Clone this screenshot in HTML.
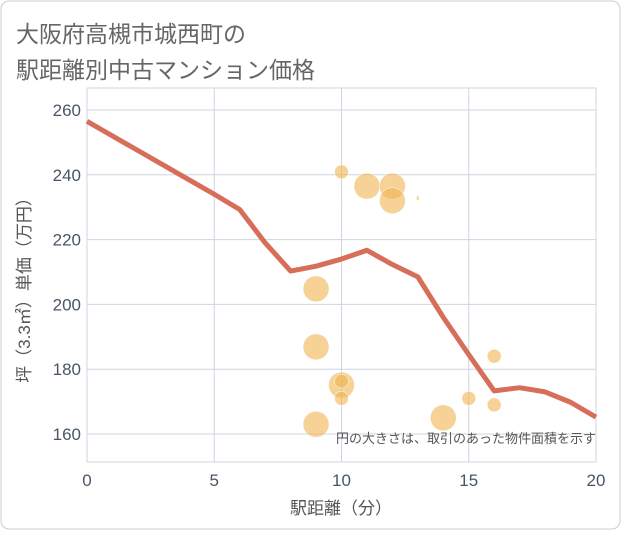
<!DOCTYPE html>
<html><head><meta charset="utf-8"><style>
body{margin:0;background:#fff;}
svg text{font-family:"Liberation Sans","Noto Sans CJK JP",sans-serif;}
</style></head><body>
<svg id="c" width="621" height="530">
<rect x="1" y="1" width="619" height="528" rx="8" fill="#fff" stroke="#ccc"/>
<text x="16" y="42" font-size="23" fill="#666">大阪府高槻市城西町の</text>
<text x="16" y="78" font-size="23" fill="#666">駅距離別中古マンション価格</text>
<g id="grid"></g><g id="bub"></g><g id="ln"></g><g id="ax"></g>
<text x="596" y="443" font-size="13" fill="#555" text-anchor="end">円の大きさは、取引のあった物件面積を示す</text>
<text x="341" y="514" font-size="17" fill="#555" text-anchor="middle">駅距離（分）</text>
<text transform="translate(30,286) rotate(-90)" font-size="17" fill="#555" text-anchor="middle">坪（3.3㎡）単価（万円）</text>
</svg>
<script>
const xTicks=[0,5,10,15,20];
const yTicks=[160,180,200,220,240,260];
const lineX=[0,1,2,3,4,5,6,7,8,9,10,11,12,13,14,15,16,17,18,19,20];
const lineY=[256.5,252,247.5,243,238.5,234,229.3,219,210.3,211.8,214,216.7,212.3,208.5,196,184.5,173.3,174.3,173,169.8,165.2];
const bubX=[10,11,12,12,10,13,13,9,9,10,10,10,10,9,14,15,16,16];
const bubY=[240.9,236.5,236.5,232,231,232.5,233,204.8,186.9,175.1,176.3,171,189,163,165,171,184,169];
const bubR=[7,13,13,13,1,1.5,1.5,13,13,13,7,7,1,13,13,7,7,7];
const L=87,R=596,T=88,B=462;
const sx=v=>L+(v-0)/(20-0)*(R-L);
const sy=v=>110+(260-v)*3.24;
const NS="http://www.w3.org/2000/svg";
function mk(p,t,a){const e=document.createElementNS(NS,t);for(const k in a)e.setAttribute(k,a[k]);p.appendChild(e);return e;}
const g=document.getElementById('grid'),ax=document.getElementById('ax');
const bg=mk(g,'rect',{x:L,y:T,width:R-L,height:B-T,fill:'none',stroke:'#ccd6e3'});


xTicks.forEach(v=>{const l=mk(g,'line',{x1:sx(v),x2:sx(v),y1:T,y2:B,stroke:'#ccd6e3'});


const t=mk(ax,'text',{x:sx(v),y:B+24,'font-size':17,fill:'#4a5666','text-anchor':'middle'});t.textContent=v;

});
yTicks.forEach(v=>{const l=mk(g,'line',{x1:L,x2:R,y1:sy(v),y2:sy(v),stroke:'#ccd6e3'});


const t=mk(ax,'text',{x:L-6,y:sy(v)+6,'font-size':17,fill:'#4a5666','text-anchor':'end'});t.textContent=v;

});
const b=document.getElementById('bub');
bubX.forEach((x,i)=>{const c=mk(b,'circle',{cx:sx(x),cy:sy(bubY[i]),r:bubR[i],fill:'rgba(240,180,80,0.6)',stroke:'#fff','stroke-width':0.5});

});
const p=mk(document.getElementById('ln'),'polyline',{points:lineX.map((x,i)=>sx(x)+','+sy(lineY[i])).join(' '),fill:'none',stroke:'#d66e5a','stroke-width':5,'stroke-linejoin':'round'});


</script>
</body></html>
